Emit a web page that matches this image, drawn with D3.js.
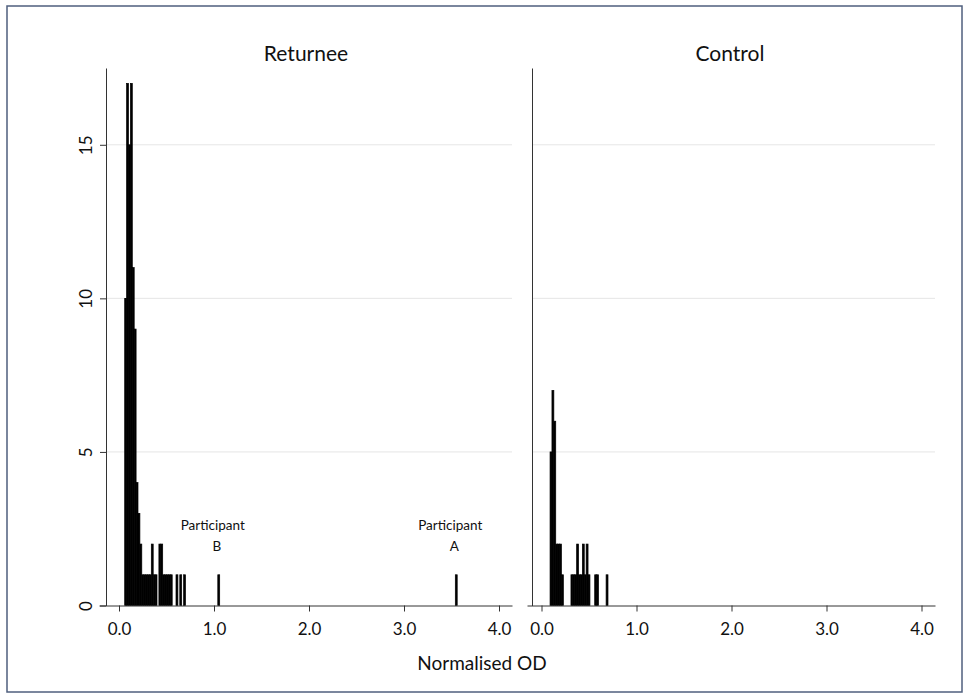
<!DOCTYPE html>
<html>
<head>
<meta charset="utf-8">
<script src="https://cdn.jsdelivr.net/npm/d3@7"></script>
<style>
  body { margin: 0; background: #fff; }
  text { font-family: Lato, "Open Sans", sans-serif; fill: #111; }
</style>
</head>
<body>
<div id="chart"></div>
<script>
// histogram bins (left edge of each bin, width binWidth) and counts
var binWidth = 0.02;

var returneeBins   = [0.06, 0.08, 0.10, 0.12, 0.14, 0.16, 0.18, 0.20, 0.22, 0.24, 0.26, 0.28, 0.30, 0.32, 0.34, 0.36, 0.38, 0.42, 0.44, 0.46, 0.48, 0.50, 0.52, 0.54, 0.60, 0.64, 0.68, 1.04, 3.54];
var returneeCounts = [10,   17,   15,   17,   11,   9,    4,    3,    2,    1,    1,    1,    1,    1,    2,    1,    1,    2,    2,    1,    1,    1,    1,    1,    1,    1,    1,    1,    1];

var controlBins   = [0.09, 0.11, 0.13, 0.15, 0.17, 0.19, 0.21, 0.31, 0.33, 0.35, 0.37, 0.39, 0.41, 0.43, 0.45, 0.47, 0.49, 0.56, 0.58, 0.68];
var controlCounts = [5,    7,    6,    2,    2,    2,    1,    1,    1,    1,    2,    1,    1,    2,    1,    2,    1,    1,    1,    1];

var xTicks = [0, 1, 2, 3, 4];
var xTickLabels = ["0.0", "1.0", "2.0", "3.0", "4.0"];
var yTicks = [0, 5, 10, 15];

var panelTitles = ["Returnee", "Control"];
var notes = [
  { panel: 0, value: 1.05, lines: ["Participant", "B"] },
  { panel: 0, value: 3.55, lines: ["Participant", "A"] }
];

var W = 965, H = 696;
var svg = d3.select("#chart").append("svg")
  .attr("width", W)
  .attr("height", H);

// outer frame
svg.append("rect")
  .attr("x", 7).attr("y", 6)
  .attr("width", 955).attr("height", 686)
  .attr("fill", "none")
  .attr("stroke", "#4f5f7e")
  .attr("stroke-width", 1.5);

var y = d3.scaleLinear().domain([0, 17.5]).range([605.5, 68]);

var panels = [
  { zero: 119,   left: 99,  right: 512, axisX: 106, bins: returneeBins, counts: returneeCounts, titleX: 306 },
  { zero: 541.5, left: 527, right: 935, axisX: 532, bins: controlBins,  counts: controlCounts,  titleX: 730 }
];

panels.forEach(function(p, i) {
  var g = svg.append("g");
  var x = d3.scaleLinear()
    .domain([(p.left - p.zero) / 95, (p.right - p.zero) / 95])
    .range([p.left, p.right]);

  // grid lines
  g.selectAll("line.grid")
    .data(yTicks.filter(function(d) { return d > 0; }))
    .enter().append("line")
      .attr("class", "grid")
      .attr("x1", p.axisX).attr("x2", p.right)
      .attr("y1", function(d) { return y(d); })
      .attr("y2", function(d) { return y(d); })
      .attr("stroke", "#e6e6e6")
      .attr("stroke-width", 1);

  // bars
  var data = p.bins.map(function(b, j) { return { b: b, c: p.counts[j] }; });
  g.selectAll("rect.bar")
    .data(data)
    .enter().append("rect")
      .attr("class", "bar")
      .attr("x", function(d) { return x(d.b); })
      .attr("width", function(d) { return x(d.b + binWidth) - x(d.b); })
      .attr("y", function(d) { return y(d.c); })
      .attr("height", function(d) { return y(0) - y(d.c); })
      .attr("fill", "#000")
      .attr("stroke", "#000")
      .attr("stroke-width", 0.7);

  // x axis
  var xAxis = d3.axisBottom(x)
    .tickValues(xTicks)
    .tickFormat(function(d, k) { return xTickLabels[k]; })
    .tickSize(6)
    .tickSizeOuter(0)
    .tickPadding(11);
  var xa = g.append("g")
    .attr("transform", "translate(0," + y(0) + ")")
    .call(xAxis);
  xa.selectAll("path, line").attr("stroke", "#333");
  xa.selectAll("text").style("font-size", "17px").style("font-family", "Lato, sans-serif");

  // y axis
  var yAxis = d3.axisLeft(y)
    .tickValues(i === 0 ? yTicks : [])
    .tickSize(6)
    .tickSizeOuter(0)
    .tickPadding(10);
  var ya = g.append("g")
    .attr("transform", "translate(" + p.axisX + ",0)")
    .call(yAxis);
  ya.selectAll("path, line").attr("stroke", "#333");
  ya.selectAll("text")
    .style("font-size", "17px")
    .style("font-family", "Lato, sans-serif")
    .attr("text-anchor", "middle")
    .attr("dy", null)
    .attr("x", -18)
    .attr("transform", function() {
      return "rotate(-90," + (-18) + ",0)";
    })
    .attr("y", 0)
    .attr("dominant-baseline", "middle");

  // panel title
  g.append("text")
    .attr("x", p.titleX)
    .attr("y", 61)
    .attr("text-anchor", "middle")
    .style("font-size", "21px")
    .text(panelTitles[i]);

  // notes
  notes.filter(function(n) { return n.panel === i; }).forEach(function(n) {
    n.lines.forEach(function(line, k) {
      g.append("text")
        .attr("x", x(n.value) - (k === 0 ? 6 : 2))
        .attr("y", 530 + k * 21)
        .attr("text-anchor", "middle")
        .style("font-size", "13.5px")
        .text(line);
    });
  });
});

// shared x title
svg.append("text")
  .attr("x", 482)
  .attr("y", 670)
  .attr("text-anchor", "middle")
  .style("font-size", "19px")
  .text("Normalised OD");
</script>
</body>
</html>
